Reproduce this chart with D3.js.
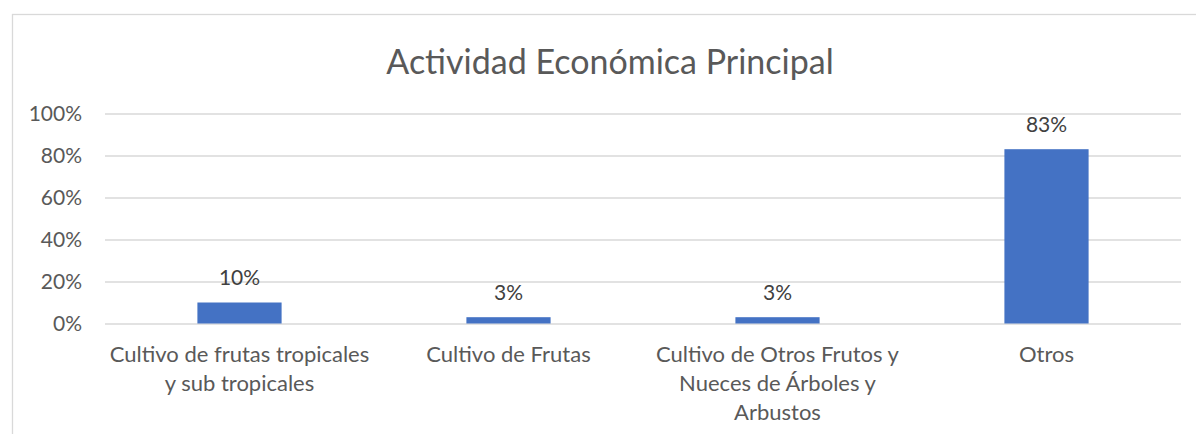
<!DOCTYPE html>
<html>
<head>
<meta charset="utf-8">
<script src="https://cdn.jsdelivr.net/npm/d3@7"></script>
<style>
  body { margin: 0; background: #fff; }
  text { font-family: Lato, "Open Sans", sans-serif; }
</style>
</head>
<body>
<div class="chart"></div>
<script>
// chart data
const title = "Actividad Económica Principal";
const categories = [
  "Cultivo de frutas tropicales\ny sub tropicales",
  "Cultivo de Frutas",
  "Cultivo de Otros Frutos y\nNueces de Árboles y\nArbustos",
  "Otros"
];
const values = [0.10, 0.03, 0.03, 0.83];
const yTicks = [0, 0.2, 0.4, 0.6, 0.8, 1.0];

const width = 1196, height = 434;
const margin = {left: 105, right: 15, top: 113.5, bottom: 110.5};

const svg = d3.select(".chart")
  .append("svg")
  .attr("width", width)
  .attr("height", height);

// outer frame (right and bottom edges fall off the picture)
svg.append("rect")
  .attr("x", 12.5).attr("y", 14.5)
  .attr("width", width + 20).attr("height", height + 20)
  .attr("fill", "#fff")
  .attr("stroke", "#d9d9d9")
  .attr("stroke-width", 1.3);

const x = d3.scaleBand()
  .domain(categories)
  .range([margin.left, width - margin.right])
  .paddingInner(0.687)
  .paddingOuter(0.3435);

const y = d3.scaleLinear()
  .domain([0, 1])
  .range([height - margin.bottom, margin.top]);

svg.append("text")
  .attr("x", 610)
  .attr("y", 74)
  .attr("text-anchor", "middle")
  .attr("fill", "#595959")
  .style("font-size", "34px")
  .text(title);

// gridlines + y labels
const yAxis = svg.append("g")
  .attr("transform", "translate(" + margin.left + ",0)")
  .call(d3.axisLeft(y)
    .tickValues(yTicks)
    .tickSize(-(width - margin.left - margin.right))
    .tickPadding(23)
    .tickFormat(d3.format(".0%")));
yAxis.select(".domain").remove();
yAxis.selectAll(".tick line").attr("stroke", "#d9d9d9").attr("stroke-width", 1.3);
yAxis.selectAll(".tick text")
  .attr("fill", "#595959")
  .style("font-size", "21px")
  .attr("dy", "0.35em");

// bars
svg.selectAll("rect.bar")
  .data(values)
  .enter()
  .append("rect")
  .attr("class", "bar")
  .attr("x", (d, i) => x(categories[i]))
  .attr("y", d => y(d))
  .attr("width", x.bandwidth())
  .attr("height", d => y(0) - y(d))
  .attr("fill", "#4472c4");

// data labels
svg.selectAll("text.lbl")
  .data(values)
  .enter()
  .append("text")
  .attr("class", "lbl")
  .attr("x", (d, i) => x(categories[i]) + x.bandwidth() / 2)
  .attr("y", d => y(d) - 17.5)
  .attr("text-anchor", "middle")
  .attr("fill", "#404040")
  .style("font-size", "21px")
  .text(d => d3.format(".0%")(d));

// category labels
const cat = svg.selectAll("text.cat")
  .data(categories)
  .enter()
  .append("text")
  .attr("class", "cat")
  .attr("text-anchor", "middle")
  .attr("fill", "#595959")
  .style("font-size", "22px")
  .attr("transform", d => "translate(" + (x(d) + x.bandwidth() / 2) + ",362)");

cat.each(function(d) {
  const lines = d.split("\n");
  d3.select(this).selectAll("tspan")
    .data(lines)
    .enter()
    .append("tspan")
    .attr("x", 0)
    .attr("y", (l, i) => i * 29)
    .text(l => l);
});
</script>
</body>
</html>
